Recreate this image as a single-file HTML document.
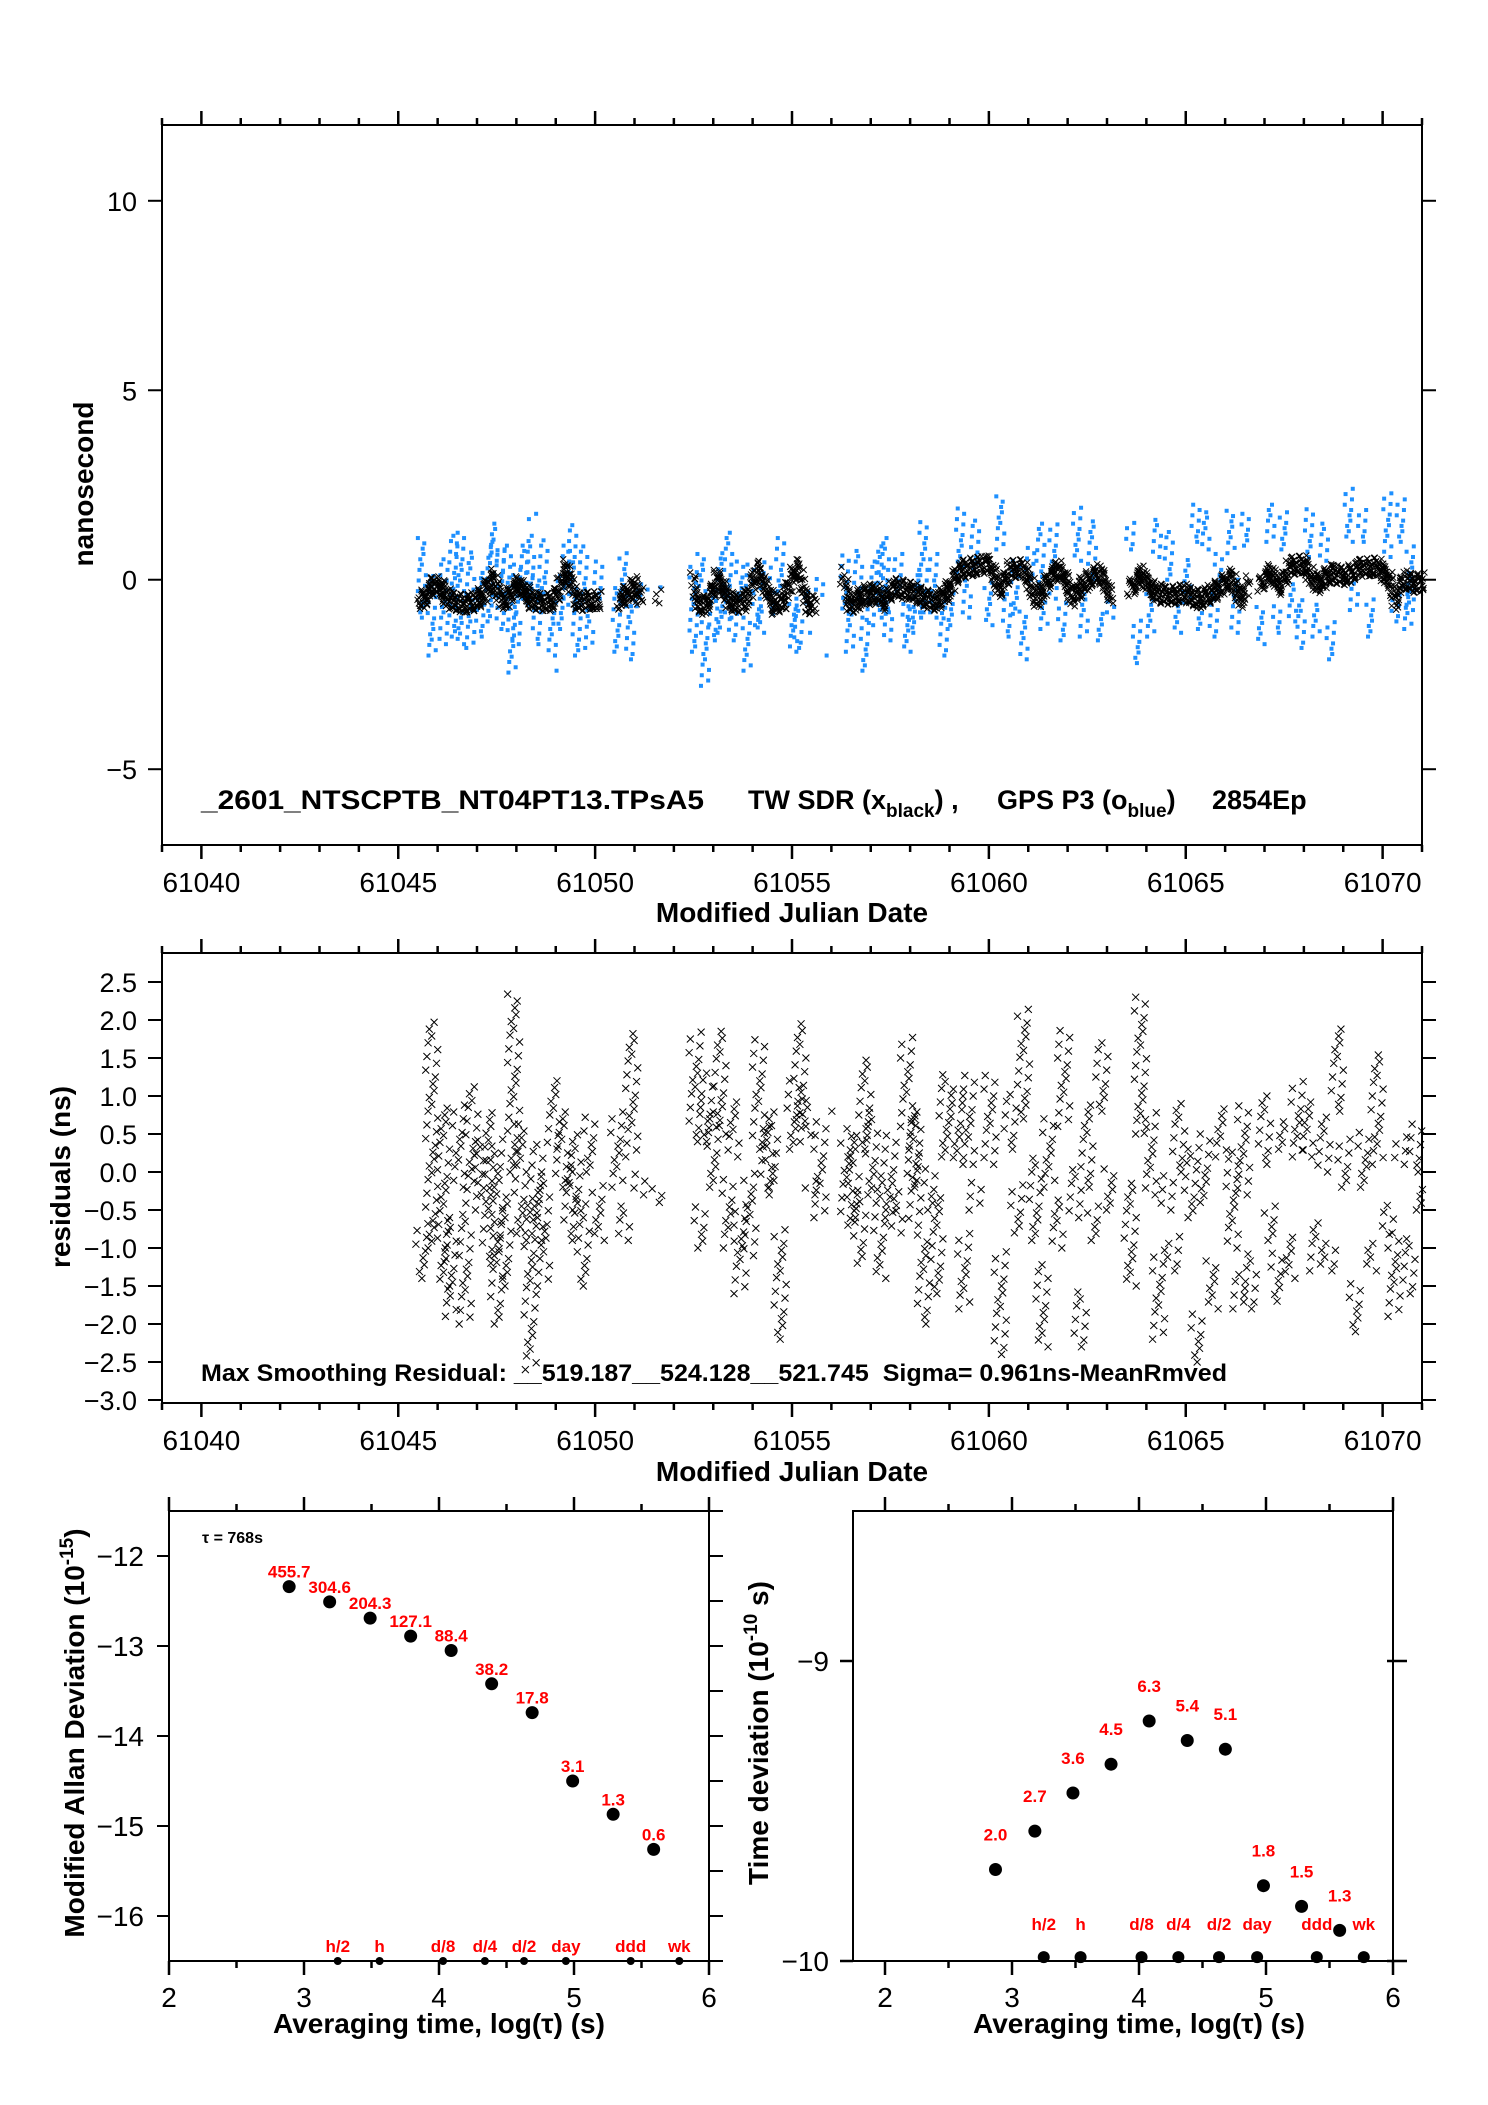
<!DOCTYPE html>
<html><head><meta charset="utf-8"><title>Clock comparison</title>
<style>
html,body{margin:0;padding:0;background:#fff;}
svg{display:block;font-family:"Liberation Sans",Arial,sans-serif;}
</style></head>
<body>
<svg id="fig" xmlns="http://www.w3.org/2000/svg" width="1488" height="2105" viewBox="0 0 1488 2105">
<rect x="0" y="0" width="1488" height="2105" fill="#fff"/>
</svg>
<script>
// ---------- data ----------
const trendDays = [45.55,45.7,45.85,46.0,46.15,46.3,46.5,46.7,46.9,47.05,47.2,47.35,47.5,47.6,47.75,47.9,48.05,48.2,48.4,48.6,48.8,48.95,49.1,49.25,49.4,49.5,49.7,49.9,50.1,
50.6,50.8,51.0,51.15,51.6,
52.49,52.6,52.8,52.95,53.1,53.25,53.4,53.6,53.8,54.0,54.1,54.25,54.4,54.55,54.8,55.0,55.15,55.4,55.55,
56.3,56.45,56.6,56.75,56.9,57.05,57.2,57.35,57.5,57.7,57.9,58.04,58.34,58.68,58.93,59.19,59.4,59.61,60.03,60.29,60.54,60.88,61.05,61.22,61.4,61.56,61.81,62.15,62.41,62.62,62.83,63.08,
63.59,63.85,64.19,64.4,64.61,64.78,64.95,65.15,65.37,65.6,65.8,65.97,66.14,66.39,66.56,
66.9,67.15,67.41,67.66,67.83,68.0,68.17,68.34,68.5,68.68,68.85,69.02,69.23,69.44,69.65,69.86,70.03,70.2,70.33,70.54,70.84,71.0];
const trendVals = [-0.55,-0.45,-0.2,-0.15,-0.3,-0.55,-0.6,-0.65,-0.6,-0.5,-0.35,0.05,-0.2,-0.55,-0.5,-0.3,-0.15,-0.3,-0.55,-0.6,-0.6,-0.55,-0.2,0.3,-0.1,-0.55,-0.6,-0.55,-0.55,
-0.6,-0.4,-0.15,-0.45,-0.4,
-0.05,-0.6,-0.7,-0.4,0.05,-0.2,-0.55,-0.65,-0.6,-0.1,0.35,-0.05,-0.35,-0.7,-0.55,0.1,0.3,-0.7,-0.65,
0.1,-0.6,-0.65,-0.45,-0.35,-0.45,-0.35,-0.6,-0.3,-0.2,-0.3,-0.3,-0.48,-0.6,-0.35,0.17,0.28,0.35,0.4,-0.27,0.26,0.3,-0.1,-0.57,-0.2,0.08,0.26,-0.48,-0.09,0.05,0.17,-0.4,
-0.27,0.13,-0.3,-0.4,-0.44,-0.38,-0.35,-0.45,-0.53,-0.4,-0.27,-0.1,0.08,-0.53,-0.13,
-0.09,0.17,-0.18,0.35,0.38,0.4,0.1,-0.13,0.0,0.17,0.12,0.08,0.2,0.3,0.32,0.35,0.15,-0.04,-0.57,0.0,-0.13,-0.05];
const trendBreaks = [50.1,51.15,51.6,55.55,63.08,66.56];

const blueDays = [45.6,45.85,46.15,46.4,46.57,46.83,47.08,47.33,47.42,47.6,47.76,47.88,48.0,48.2,48.35,48.42,48.52,48.69,48.9,49.0,49.11,49.28,49.42,49.53,49.7,49.85,50.08,50.55,50.72,50.89,51.06,51.23,51.6,
52.5,52.7,52.79,53.0,53.17,53.38,53.5,53.68,53.85,53.93,54.1,54.19,54.36,54.48,54.7,55.03,55.16,55.37,55.54,55.71,55.92,
56.34,56.47,56.68,56.85,56.98,57.1,57.23,57.36,57.44,57.7,57.91,58.17,
58.04,58.34,58.59,58.85,59.02,59.27,59.44,59.65,59.99,60.29,60.46,60.67,60.88,61.05,61.31,61.39,61.64,61.86,62.24,62.41,62.62,62.83,63.08,
63.59,63.76,64.1,64.27,64.57,64.78,65.03,65.25,65.37,65.5,65.71,65.84,66.14,66.26,66.52,66.9,67.15,67.32,67.49,67.7,67.92,68.13,68.3,68.51,68.68,69.14,69.27,69.48,69.69,70.12,70.33,70.46,70.63,70.71];
const blueLo = [-1.0,-2.0,-1.7,-1.5,-1.7,-1.8,-1.5,-1.1,0.5,-1.3,-0.5,-2.45,-1.7,-0.5,-0.8,1.6,-1.7,-0.5,-2.0,-2.4,-1.3,-0.5,-0.8,-2.0,-0.8,-1.8,-0.5,-1.9,-0.7,-2.1,-0.7,-0.4,-0.2,
-1.9,-0.3,-2.8,-1.6,-1.4,-1.0,-1.6,-0.5,-2.4,-0.3,-1.2,-1.4,-0.1,-0.9,-0.3,-1.9,-1.8,-0.6,-1.4,-0.4,-2.0,
-0.9,-1.9,-0.5,-2.4,-1.2,-0.5,-0.8,-1.0,-1.6,-0.3,-1.9,-1.0,
-1.4,-1.0,-1.0,-2.0,-1.2,0.2,-1.0,0.3,-1.2,0.8,-1.5,-0.9,-2.1,0.0,-0.2,-1.3,-0.5,-1.6,0.5,-1.5,0.0,-1.6,-1.0,
0.8,-2.2,-1.5,0.6,0.0,-1.4,-0.6,1.0,-1.3,0.8,-1.5,-0.3,0.7,-1.4,0.9,-1.7,1.0,-1.4,0.8,-1.1,-1.8,0.6,-1.5,0.5,-2.1,1.0,-0.8,1.0,-1.5,0.6,-1.1,1.0,-1.3,-0.8];
const blueHi = [1.1,0.2,0.6,1.2,1.3,0.8,0.3,1.0,1.5,0.9,0.9,-0.5,0.4,1.0,1.2,1.8,0.2,1.1,-0.8,-2.3,0.1,1.0,1.5,-0.6,0.9,-0.9,0.6,-0.2,0.7,-0.7,-0.2,-0.1,-0.2,
0.4,0.8,-1.1,-0.3,0.8,1.3,-0.8,0.5,-1.0,0.4,0.0,-0.6,0.5,-0.3,1.2,-0.4,-0.6,-0.3,-1.3,0.1,-1.9,
0.7,-0.6,0.8,-1.0,-0.4,0.6,1.0,1.1,-0.4,0.8,-0.5,0.3,
-0.6,1.6,0.7,-0.5,-0.3,1.9,0.0,1.6,0.0,2.2,-0.3,0.5,-0.8,0.9,1.6,-0.6,1.5,-0.5,1.9,-0.3,1.6,-0.8,-0.5,
1.5,-1.0,-0.3,1.6,1.3,-0.7,0.6,2.1,-0.8,1.8,-0.3,0.8,1.9,0.0,1.8,-0.7,2.0,-0.7,1.8,0.0,-0.5,1.9,-0.6,1.5,-1.0,2.5,0.0,1.9,-0.5,2.3,-0.3,2.2,0.0,0.9];

const resDays = [45.6,45.85,46.15,46.32,46.53,46.7,46.87,47.08,47.29,47.5,47.71,47.93,48.1,48.35,48.52,48.69,48.94,49.15,49.36,49.49,49.7,49.87,50.08,50.55,50.72,50.93,51.14,51.6,
52.54,52.67,52.83,53.0,53.17,53.38,53.5,53.68,53.93,54.15,54.36,54.48,54.7,55.03,55.2,55.33,55.46,55.71,55.92,
56.39,56.55,56.72,56.85,57.02,57.23,57.49,57.65,57.91,58.12,
58.08,58.34,58.51,58.68,58.89,59.19,59.36,59.48,59.65,60.03,60.29,60.54,60.71,60.88,61.18,61.35,61.52,61.73,61.9,62.19,62.32,62.49,62.66,62.87,63.08,
63.59,63.85,64.1,64.31,64.53,64.69,64.82,65.12,65.29,65.46,65.67,65.88,66.18,66.35,66.47,66.64,67.0,67.15,67.32,67.45,67.62,67.83,68.08,68.3,68.51,68.68,68.85,69.02,69.31,69.53,69.69,69.86,70.12,70.29,70.46,70.67,70.84,70.92];
const resLo = [-1.4,-1.0,-1.5,-1.9,-0.2,-2.0,-0.5,-0.3,-1.2,-2.0,-1.5,0.0,-0.9,-2.6,-0.9,-1.5,0.3,-0.2,-0.9,-0.5,-1.5,0.0,-0.9,-0.2,-0.9,0.2,-0.3,-0.4,
0.4,-1.0,0.4,-0.2,0.5,-1.0,0.2,-1.6,-1.1,0.3,-0.3,-0.2,-2.2,0.3,0.6,0.4,-0.3,-0.6,0.8,
-0.7,-0.6,-1.2,0.3,-0.3,-1.4,-0.6,-0.8,0.6,-0.7,
-0.2,-2.0,-0.5,-1.6,0.2,0.1,-1.8,0.1,-0.5,0.1,-2.4,0.3,-0.8,0.7,-0.9,-2.3,-0.2,-1.0,0.6,-0.6,-2.3,-0.2,-0.9,0.8,-0.5,
-1.5,0.5,-0.3,-2.2,-0.5,-1.3,0.0,-0.6,-2.5,-0.4,-1.8,0.2,-1.0,-1.8,-0.3,-1.8,0.1,-0.9,-1.7,0.3,-1.4,0.2,0.2,-1.3,0.0,-1.3,0.8,-0.2,-2.1,-0.2,-1.3,0.1,-0.8,-1.9,0.1,-1.6,0.0,-0.5];
const resHi = [-0.6,2.0,0.9,-0.6,0.9,-0.5,1.2,0.5,0.8,0.5,-0.3,2.4,0.7,-0.3,0.4,0.0,1.2,0.8,0.1,0.5,-0.4,0.8,-0.1,0.8,-0.4,1.9,0.0,-0.2,
1.9,-0.4,1.3,0.8,1.9,-0.1,1.0,-0.4,0.0,1.8,0.6,0.8,-0.7,1.2,2.0,1.0,-0.1,0.7,0.8,
0.5,0.6,-0.3,1.5,0.8,0.0,0.5,-0.2,1.8,0.8,
0.8,-0.8,0.1,-0.3,1.3,1.1,-0.8,1.3,-0.1,1.3,-1.0,1.1,-0.1,2.2,0.2,-1.2,0.7,-0.3,1.9,0.1,-1.5,0.9,-0.4,1.7,0.1,
-0.1,2.3,0.8,-1.0,0.0,-0.8,0.9,0.3,-1.8,0.5,-1.1,0.9,0.3,-1.3,0.9,-1.0,1.0,-0.4,-1.0,0.7,-0.8,1.2,1.0,-0.6,0.8,-0.9,1.9,0.5,-1.4,0.6,-0.9,1.6,-0.4,-0.8,0.5,-0.8,0.7,-0.2];

const adevLog = [2.89,3.19,3.49,3.79,4.09,4.39,4.69,4.99,5.29,5.59];
const adevVal = [-12.34,-12.51,-12.69,-12.89,-13.05,-13.42,-13.74,-14.5,-14.87,-15.26];
const adevLbl = ["455.7","304.6","204.3","127.1","88.4","38.2","17.8","3.1","1.3","0.6"];
const tdevLog = [2.87,3.18,3.48,3.78,4.08,4.38,4.68,4.98,5.28,5.58];
const tdevVal = [-9.695,-9.567,-9.44,-9.344,-9.2,-9.265,-9.294,-9.749,-9.818,-9.898];
const tdevLbl = ["2.0","2.7","3.6","4.5","6.3","5.4","5.1","1.8","1.5","1.3"];
const markLbl = ["h/2","h","d/8","d/4","d/2","day","ddd","wk"];
const markLogL = [3.25,3.56,4.03,4.34,4.63,4.94,5.42,5.78];
const markLogR = [3.25,3.54,4.02,4.31,4.63,4.93,5.40,5.77];

const topXTicks = [61040,61045,61050,61055,61060,61065,61070];
const topYTicks = [10,5,0,-5];
const midYTicks = [2.5,2.0,1.5,1.0,0.5,0.0,-0.5,-1.0,-1.5,-2.0,-2.5,-3.0];
const adevYTicks = [-12,-13,-14,-15,-16];
const tdevYTicks = [-9,-10];
const logTicks = [2,3,4,5,6];

// ---------- scales ----------
const topX = d => 162 + (d - 61039) * (1260 / 32);
const dX = d => topX(61000 + d);
const topY = v => 125 + (12 - v) * (720 / 19);
const midY = v => 1172 - v * 76;
const alX = l => 169 + (l - 2) * 135;
const alY = v => 1511 + (-11.5 - v) * 90;
const tdX = l => 885 + (l - 2) * 127;
const tdY = v => 1661 + (-9 - v) * 300;
const spread = [0, -4, 3, -2, 5, -5, 2, -3, 4, 1];

const svg = document.getElementById('fig');
const NS = 'http://www.w3.org/2000/svg';
function mk(tag, attrs, parent) {
  const e = document.createElementNS(NS, tag);
  for (const k in attrs) e.setAttribute(k, attrs[k]);
  (parent || svg).appendChild(e);
  return e;
}
function grp(name) {
  const g = mk('g', {});
  
  
  return g;
}
function ln(g, x1, y1, x2, y2, w) {
  return mk('line', {x1: x1, y1: y1, x2: x2, y2: y2, stroke: '#000', 'stroke-width': w || 2}, g);
}
function txt(g, x, y, s, size, anchor, weight, fill) {
  const t = mk('text', {x: x, y: y, 'font-size': size, 'text-anchor': anchor || 'middle', 'font-weight': weight || 'normal', fill: fill || '#000'}, g);
  t.textContent = s;
  return t;
}
function fmtNeg(v, dec) {
  const s = Math.abs(v).toFixed(dec);
  return v < 0 ? '\u2212' + s : s;
}

// ================= TOP PLOT =================
const gTop = grp('time-difference-chart');
const frameTop = mk('rect', {x: 162, y: 125, width: 1260, height: 720, fill: 'none', stroke: '#000', 'stroke-width': 2}, gTop);


function mjdAxis(g, yTop, yBot, labelY, titleY) {
  for (let d = 61039; d <= 61071; d++) {
    const major = (d % 5 === 0);
    const L = major ? 14 : 7;
    const x = topX(d);
    const t1 = ln(g, x, yTop, x, yTop - L, 2.5);
    
    
    const t2 = ln(g, x, yBot, x, yBot + L, 2.5);
    
    
  }
  topXTicks.forEach(d => {
    const t = txt(g, topX(d), labelY, String(d), 28, 'middle');
    
    
  });
  const tt = txt(g, 792, titleY, 'Modified Julian Date', 28, 'middle', 'bold');
  
  
}
mjdAxis(gTop, 125, 845, 892, 922);
topYTicks.forEach(v => {
  const y = topY(v);
  const a = ln(gTop, 148, y, 162, y, 2);
  
  
  const b = ln(gTop, 1422, y, 1436, y, 2);
  
  
  const t = txt(gTop, 137, y + 10, fmtNeg(v, 0), 27, 'end');
  
  
});
const ytTop = txt(gTop, 0, 0, 'nanosecond', 28, 'middle', 'bold');
ytTop.setAttribute('transform', 'translate(93,484) rotate(-90)');



// blue series (GPS P3)
const gBlue = grp('gps-p3-series');
for (let i = 0; i < blueDays.length; i++) {
  const lo = Math.min(blueLo[i], blueHi[i]), hi = Math.max(blueLo[i], blueHi[i]);
  let k = i;
  for (let v = lo; v <= hi + 0.001; v += 0.14) {
    const off = spread[k % spread.length] * 0.8;
    k += 3;
    const r = mk('rect', {x: dX(blueDays[i]) - 2 + off, y: topY(v) - 2, width: 4, height: 4, fill: '#1e90ff'}, gBlue);
    
    
  }
}
// black series (TW SDR)
const gBlack = grp('tw-sdr-series');
function xMark(g, x, y, s, w) {
  const p = mk('path', {d: `M${x - s} ${y - s}L${x + s} ${y + s}M${x - s} ${y + s}L${x + s} ${y - s}`, stroke: '#000', 'stroke-width': w, fill: 'none'}, g);
  return p;
}
const bOffs = [-0.22, -0.1, 0.02, 0.14, 0.24, -0.16, 0.08];
let bk = 0;
for (let i = 0; i < trendDays.length; i++) {
  const d0 = trendDays[i], v0 = trendVals[i];
  const last = (i === trendDays.length - 1) || trendBreaks.includes(d0);
  const d1 = last ? d0 + 0.03 : trendDays[i + 1];
  const v1 = last ? v0 : trendVals[i + 1];
  for (let d = d0; d < d1 - 0.001; d += 0.035) {
    const f = (d - d0) / (d1 - d0);
    const v = v0 + (v1 - v0) * f;
    for (let j = 0; j < 4; j++) {
      const o = bOffs[(bk + j * 2) % bOffs.length];
      const xo = spread[(bk + j) % spread.length] * 0.6;
      const m = xMark(gBlack, dX(d) + xo, topY(v + o), 3, 1);
      
      
    }
    bk++;
  }
}
// legend / caption
const cap = mk('text', {x: 201, y: 809, 'font-size': 27, 'font-weight': 'bold', textLength: 503, lengthAdjust: 'spacingAndGlyphs'}, gTop);
cap.textContent = '_2601_NTSCPTB_NT04PT13.TPsA5';


const leg1 = mk('text', {x: 748, y: 809, 'font-size': 27, 'font-weight': 'bold'}, gTop);


leg1.innerHTML = 'TW SDR (x<tspan font-size="19" dy="8">black</tspan><tspan dy="-8">) ,</tspan>';
const leg2 = mk('text', {x: 997, y: 809, 'font-size': 27, 'font-weight': 'bold'}, gTop);


leg2.innerHTML = 'GPS P3 (o<tspan font-size="19" dy="8">blue</tspan><tspan dy="-8">)</tspan>';
const leg3 = txt(gTop, 1212, 809, '2854Ep', 27, 'start', 'bold');



// ================= MIDDLE PLOT =================
const gMid = grp('residuals-chart');
const frameMid = mk('rect', {x: 162, y: 953, width: 1260, height: 450, fill: 'none', stroke: '#000', 'stroke-width': 2}, gMid);


mjdAxis(gMid, 953, 1403, 1450, 1481);
midYTicks.forEach(v => {
  const y = midY(v);
  const a = ln(gMid, 148, y, 162, y, 2);
  
  
  const b = ln(gMid, 1422, y, 1436, y, 2);
  
  
  const t = txt(gMid, 137, y + 10, fmtNeg(v, 1), 27, 'end');
  
  
});
const ytMid = txt(gMid, 0, 0, 'residuals (ns)', 28, 'middle', 'bold');
ytMid.setAttribute('transform', 'translate(70,1177) rotate(-90)');


const gRes = grp('residual-series');
for (let i = 0; i < resDays.length; i++) {
  const lo = Math.min(resLo[i], resHi[i]), hi = Math.max(resLo[i], resHi[i]);
  let k = i * 7;
  for (let v = lo; v <= hi + 0.001; v += 0.09) {
    const off = spread[k % spread.length] * 1.2;
    k += 3;
    const m = xMark(gRes, dX(resDays[i]) + off, midY(v), 3.5, 1);
    
    
  }
}
const note = mk('text', {x: 201, y: 1381, 'font-size': 24, 'font-weight': 'bold', textLength: 1026, lengthAdjust: 'spacingAndGlyphs'}, gMid);
note.textContent = 'Max Smoothing Residual: __519.187__524.128__521.745\u00a0\u00a0Sigma= 0.961ns-MeanRmved';



// ================= LOWER PLOTS =================
function logAxis(g, xf, left, right, top, bot) {
  for (let l = 1.5; l <= 6.01; l += 0.5) {
    const x = xf(l);
    if (x < left - 1 || x > right + 1) continue;
    const major = Math.abs(l - Math.round(l)) < 0.01;
    const L = major ? 14 : 7;
    const a = ln(g, x, top, x, top - L, 2.5);
    
    
    const b = ln(g, x, bot, x, bot + L, 2.5);
    
    
  }
  logTicks.forEach(l => {
    const t = txt(g, xf(l), 2007, String(l), 28, 'middle');
    
    
  });
  const tt = txt(g, (xf(2) + xf(6)) / 2, 2033, 'Averaging time, log(\u03c4) (s)', 28, 'middle', 'bold');
  
  
}

// --- Allan deviation ---
const gAl = grp('allan-deviation-chart');
const frameAl = mk('rect', {x: 169, y: 1511, width: 540, height: 450, fill: 'none', stroke: '#000', 'stroke-width': 2}, gAl);


logAxis(gAl, alX, 169, 709, 1511, 1961);
for (let v = -11.5; v >= -16.51; v -= 0.5) {
  const y = alY(v);
  const b = ln(gAl, 709, y, 723, y, 2);
  
  
}
adevYTicks.forEach(v => {
  const y = alY(v);
  const a = ln(gAl, 157, y, 169, y, 2);
  
  
  const t = txt(gAl, 144, y + 10, fmtNeg(v, 0), 28, 'end');
  
  
});
const ytAl = mk('text', {'font-size': 28, 'font-weight': 'bold', 'text-anchor': 'middle', transform: 'translate(84,1733) rotate(-90)'}, gAl);
ytAl.innerHTML = 'Modified Allan Deviation (10<tspan font-size="19" dy="-11">-15</tspan><tspan dy="11">)</tspan>';


const tau = txt(gAl, 202, 1543, '\u03c4 = 768s', 16, 'start', 'bold');


for (let i = 0; i < adevLog.length; i++) {
  const x = alX(adevLog[i]), y = alY(adevVal[i]);
  const c = mk('circle', {cx: x, cy: y, r: 6.5, fill: '#000'}, gAl);
  
  
  const t = txt(gAl, x, y - 9, adevLbl[i], 17, 'middle', 'bold', '#ff0000');
  
  
}
for (let i = 0; i < markLogL.length; i++) {
  const x = alX(markLogL[i]);
  const c = mk('circle', {cx: x, cy: 1961, r: 4, fill: '#000'}, gAl);
  
  
  const t = txt(gAl, x, 1952, markLbl[i], 17, 'middle', 'bold', '#ff0000');
  
  
}

// --- Time deviation ---
const gTd = grp('time-deviation-chart');
const frameTd = mk('rect', {x: 853, y: 1511, width: 540, height: 450, fill: 'none', stroke: '#000', 'stroke-width': 2}, gTd);


logAxis(gTd, tdX, 853, 1393, 1511, 1961);
tdevYTicks.forEach(v => {
  const y = tdY(v);
  const a = ln(gTd, 840, y, 853, y, 2.5);
  
  
  const b = ln(gTd, 1387, y, 1407, y, 2.5);
  
  
  const t = txt(gTd, 829, y + 10, fmtNeg(v, 0), 28, 'end');
  
  
});
const ytTd = mk('text', {'font-size': 28, 'font-weight': 'bold', 'text-anchor': 'middle', transform: 'translate(768,1733) rotate(-90)'}, gTd);
ytTd.innerHTML = 'Time deviation (10<tspan font-size="19" dy="-11">-10</tspan><tspan dy="11"> s)</tspan>';


for (let i = 0; i < tdevLog.length; i++) {
  const x = tdX(tdevLog[i]), y = tdY(tdevVal[i]);
  const c = mk('circle', {cx: x, cy: y, r: 6.5, fill: '#000'}, gTd);
  
  
  const t = txt(gTd, x, y - 29, tdevLbl[i], 17, 'middle', 'bold', '#ff0000');
  
  
}
for (let i = 0; i < markLogR.length; i++) {
  const x = tdX(markLogR[i]);
  const c = mk('circle', {cx: x, cy: tdY(-9.987), r: 6, fill: '#000'}, gTd);
  
  
  const t = txt(gTd, x, 1930, markLbl[i], 17, 'middle', 'bold', '#ff0000');
  
  
}
</script>
</body></html>
